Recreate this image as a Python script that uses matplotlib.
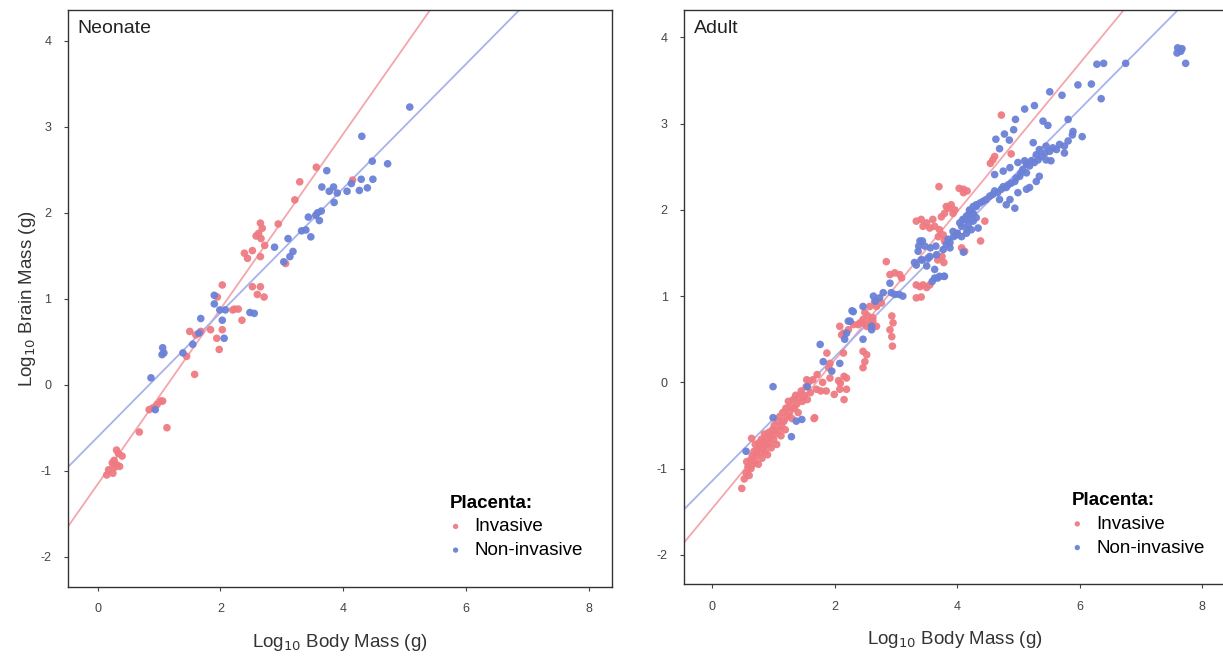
import matplotlib.pyplot as plt
import numpy as np

plt.rcParams["font.family"] = ["Liberation Sans", "DejaVu Sans"]
plt.rcParams["axes.unicode_minus"] = False

# ---- data (log10 body mass, log10 brain mass) ----
neonate_invasive = [
    (3.56, 2.53), (3.29, 2.36), (3.21, 2.15), (4.15, 2.38), (2.65, 1.88), (2.68, 1.82),
    (2.94, 1.87), (2.58, 1.73), (2.62, 1.76), (2.66, 1.70), (2.39, 1.53), (2.52, 1.56),
    (2.65, 1.49), (2.72, 1.62), (2.44, 1.47), (3.06, 1.41), (2.03, 1.16), (2.52, 1.14),
    (2.65, 1.14), (2.71, 1.02), (2.60, 1.05), (1.95, 1.02), (2.29, 0.88), (2.23, 0.88),
    (2.20, 0.87), (2.35, 0.75), (1.45, 0.33), (1.58, 0.12), (1.98, 0.41), (1.94, 0.54),
    (1.50, 0.62), (1.60, 0.58), (1.68, 0.62), (1.84, 0.64), (2.03, 0.64), (0.84, -0.29),
    (0.90, -0.27), (0.97, -0.23), (1.03, -0.19), (1.06, -0.19), (1.13, -0.50), (0.68, -0.55),
    (0.31, -0.76), (0.34, -0.80), (0.40, -0.83), (0.27, -0.88), (0.24, -0.91), (0.31, -0.93),
    (0.18, -0.99), (0.15, -1.05), (0.25, -1.03), (0.36, -0.95), (0.28, -0.96),
]
neonate_noninvasive = [
    (5.08, 3.23), (4.30, 2.89), (4.47, 2.60), (4.72, 2.57), (3.73, 2.49), (4.29, 2.39),
    (4.48, 2.39), (4.13, 2.34), (4.39, 2.29), (4.26, 2.26), (4.06, 2.25), (3.65, 2.30),
    (3.84, 2.30), (3.77, 2.25), (3.90, 2.23), (3.85, 2.12), (3.58, 2.00), (3.64, 2.02),
    (3.55, 1.97), (3.61, 1.91), (3.43, 1.95), (3.39, 1.80), (3.32, 1.79), (3.47, 1.72),
    (3.10, 1.70), (2.88, 1.60), (3.18, 1.55), (3.13, 1.49), (3.03, 1.43), (1.90, 1.04),
    (1.90, 0.94), (2.08, 0.87), (1.99, 0.87), (2.48, 0.84), (2.55, 0.83), (1.68, 0.77),
    (2.03, 0.75), (0.87, 0.08), (1.06, 0.43), (1.08, 0.37), (1.05, 0.35), (1.39, 0.37),
    (1.55, 0.47), (1.65, 0.60), (2.06, 0.54), (0.94, -0.29),
]

adult_invasive = [
    # dense small-mammal band
    (0.48, -1.23), (0.52, -1.12), (0.55, -1.05), (0.58, -0.98), (0.56, -0.92), (0.60, -1.08),
    (0.62, -0.90), (0.63, -1.00), (0.65, -0.85), (0.66, -0.95), (0.68, -0.80), (0.70, -0.92),
    (0.70, -0.72), (0.72, -0.85), (0.73, -0.78), (0.75, -0.95), (0.76, -0.70), (0.78, -0.82),
    (0.79, -0.74), (0.80, -0.66), (0.81, -0.88), (0.83, -0.76), (0.84, -0.68), (0.85, -0.60),
    (0.86, -0.80), (0.88, -0.72), (0.89, -0.64), (0.90, -0.84), (0.92, -0.58), (0.93, -0.70),
    (0.95, -0.62), (0.96, -0.76), (0.98, -0.55), (1.00, -0.66), (1.01, -0.50), (1.03, -0.60),
    (1.05, -0.72), (1.06, -0.45), (1.08, -0.56), (1.10, -0.40), (1.12, -0.62), (1.13, -0.50),
    (1.15, -0.35), (1.17, -0.45), (1.19, -0.55), (1.20, -0.30), (1.22, -0.40), (1.24, -0.22),
    (1.26, -0.35), (1.28, -0.28), (1.30, -0.42), (1.32, -0.20), (1.34, -0.30), (1.36, -0.15),
    (1.38, -0.25), (1.40, -0.35), (1.42, -0.18), (1.45, -0.10), (1.47, -0.22), (1.50, -0.15),
    (1.53, -0.05), (1.55, -0.20), (1.58, 0.01), (1.60, -0.12), (1.64, 0.03), (1.66, -0.42),
    (1.70, -0.08), (1.71, 0.09), (1.77, -0.10), (1.80, 0.00), (0.64, -0.65), (1.54, 0.03),
    (1.86, -0.10), (1.67, -0.41),
    # mid-size
    (1.87, 0.34), (1.90, 0.17), (1.92, 0.22), (1.92, 0.05), (1.99, -0.14), (2.06, 0.02),
    (2.09, -0.01), (2.15, 0.07), (2.15, -0.20), (2.19, 0.05), (2.08, -0.08), (2.19, -0.08),
    (2.14, 0.34), (2.46, 0.36), (2.52, 0.32), (2.49, 0.24), (2.46, 0.17), (2.94, 0.42),
    (2.08, 0.65), (2.11, 0.55), (2.14, 0.57), (2.22, 0.61), (2.30, 0.67), (2.38, 0.67),
    (2.46, 0.69), (2.62, 0.71), (2.68, 0.65), (2.65, 0.94), (2.57, 0.88), (2.68, 0.88),
    (2.76, 0.92), (2.49, 0.81), (2.54, 0.77), (2.62, 0.75), (2.46, 0.73), (2.41, 0.69),
    (2.57, 0.69), (2.52, 0.65), (2.62, 0.65), (2.93, 0.77), (2.95, 0.69), (2.90, 0.61),
    (2.93, 0.53), (2.84, 1.40), (2.90, 1.25), (2.98, 1.27), (3.06, 1.25), (3.09, 1.21),
    (3.33, 1.13), (3.39, 1.11), (3.44, 1.13), (3.50, 1.10), (3.55, 1.13), (3.33, 0.98),
    (3.41, 0.99),
    # larger species
    (3.33, 1.87), (3.41, 1.89), (3.50, 1.85), (3.60, 1.89), (3.63, 1.81), (3.55, 1.79),
    (3.44, 1.81), (3.71, 1.77), (3.77, 1.71), (3.69, 1.69), (3.79, 1.64), (3.75, 1.46),
    (3.68, 1.42), (3.78, 1.39), (3.90, 2.06), (3.85, 2.02), (3.93, 1.96), (3.79, 1.96),
    (3.74, 1.92), (3.82, 2.04), (3.96, 2.00), (3.70, 2.27), (4.03, 2.25), (4.10, 2.24),
    (4.16, 2.22), (4.10, 2.20), (4.45, 1.87), (4.38, 1.64), (4.07, 1.56), (4.12, 1.52),
    (4.58, 2.58), (4.54, 2.54), (4.61, 2.62), (4.88, 2.65), (4.72, 3.10),
]
adult_noninvasive = [
    # small species
    (0.55, -0.80), (0.99, -0.05), (0.99, -0.41), (1.37, -0.45), (1.46, -0.43), (1.29, -0.63),
    (1.55, -0.05), (1.76, 0.44), (1.81, 0.24), (1.95, 0.13), (2.08, 0.22), (2.16, 0.50),
    (2.22, 0.71), (2.46, 0.50), (2.60, 0.61), (2.19, 0.57), (2.25, 0.71), (2.30, 0.82),
    (2.28, 0.83), (2.46, 0.88), (2.60, 0.65), (2.63, 1.00), (2.66, 0.94), (2.73, 0.98),
    (2.79, 1.04), (2.92, 1.04), (3.05, 1.02), (2.98, 1.02), (3.11, 1.00), (2.90, 1.15),
    # mid-size
    (3.30, 1.39), (3.43, 1.42), (3.52, 1.44), (3.33, 1.36), (3.41, 1.42), (3.50, 1.35),
    (3.55, 1.46), (3.66, 1.48), (3.63, 1.31), (3.71, 1.23), (3.79, 1.23), (3.63, 1.21),
    (3.78, 1.23), (3.68, 1.21), (3.59, 1.17), (3.43, 1.64), (3.37, 1.58), (3.56, 1.56),
    (3.65, 1.58), (3.36, 1.52), (3.47, 1.58), (3.39, 1.64), (3.77, 1.54), (3.88, 1.56),
    (3.82, 1.60), (3.85, 1.66), (3.88, 1.62), (3.94, 1.69), (3.93, 1.75), (3.99, 1.71),
    (4.00, 1.73), (4.07, 1.69), (4.07, 1.81), (4.04, 1.85), (4.09, 1.89), (4.13, 1.89),
    (4.15, 1.73), (4.16, 1.77), (4.10, 1.51), (4.23, 1.77), (4.34, 1.79), (4.18, 1.83),
    (4.15, 1.93), (4.26, 1.87), (4.31, 1.91), (4.23, 1.89), (4.26, 1.95), (4.20, 2.00),
    (4.26, 1.96), (4.31, 2.04), (4.12, 1.89), (4.18, 1.93), (4.20, 1.98),
    # large species band
    (4.26, 2.04), (4.31, 2.06), (4.37, 2.08), (4.42, 2.10), (4.47, 2.12), (4.53, 2.16),
    (4.58, 2.18), (4.61, 2.22), (4.66, 2.20), (4.72, 2.24), (4.75, 2.27), (4.80, 2.26),
    (4.83, 2.29), (4.88, 2.31), (4.94, 2.33), (4.96, 2.37), (5.02, 2.39), (5.04, 2.43),
    (5.13, 2.43), (5.07, 2.47), (5.13, 2.53), (5.18, 2.51), (5.21, 2.57), (5.26, 2.55),
    (5.32, 2.58), (5.29, 2.64), (5.37, 2.62), (5.34, 2.70), (5.43, 2.66), (5.45, 2.74),
    (5.51, 2.68), (5.56, 2.72), (5.62, 2.70), (5.67, 2.76), (5.75, 2.74), (5.81, 2.80),
    (5.34, 2.39), (5.29, 2.33), (5.18, 2.26), (5.13, 2.24), (4.99, 2.20), (4.86, 2.12),
    (4.94, 2.02), (4.80, 2.06), (4.69, 2.12), (4.61, 2.41), (4.75, 2.45), (4.86, 2.49),
    (4.99, 2.55), (5.10, 2.57), (5.45, 2.58), (5.53, 2.57), (5.75, 2.66),
    # big-brained outliers
    (4.63, 2.82), (4.77, 2.88), (4.85, 2.81), (4.92, 2.93), (4.69, 2.71), (5.24, 2.78),
    (4.95, 3.05), (5.10, 3.17), (5.26, 3.21), (5.40, 3.03), (5.48, 2.98), (5.51, 3.37),
    (5.71, 3.33), (5.81, 3.05), (5.89, 2.91), (6.04, 2.85), (5.88, 2.87), (5.97, 3.45),
    (6.19, 3.46), (6.35, 3.29), (6.28, 3.69), (6.39, 3.70), (6.75, 3.70), (7.60, 3.88),
    (7.67, 3.87), (7.59, 3.82), (7.65, 3.84), (7.73, 3.70),
]

# fitted allometric lines (slope, intercept)
neonate_fit = {"Invasive": (1.02, -1.16), "Non-invasive": (0.724, -0.61)}
adult_fit = {"Invasive": (0.86, -1.46), "Non-invasive": (0.718, -1.14)}

x_ticks = [0, 2, 4, 6, 8]
y_ticks = [-2, -1, 0, 1, 2, 3, 4]

point_colors = {"Invasive": "#EF7A82", "Non-invasive": "#6B81D7"}
line_colors = {"Invasive": "#F4A6AD", "Non-invasive": "#A8B2EC"}


def draw_panel(ax, label, invasive, noninvasive, fits, xlim, ylim):
    ax.set_xlim(*xlim)
    ax.set_ylim(*ylim)
    xs = np.array(xlim)
    for name, pts in (("Invasive", invasive), ("Non-invasive", noninvasive)):
        arr = np.array(pts)
        ax.scatter(arr[:, 0], arr[:, 1], s=30, color=point_colors[name],
                   edgecolors="none", alpha=0.95, label=name, zorder=3)
        slope, icpt = fits[name]
        ax.plot(xs, slope * xs + icpt, color=line_colors[name], lw=1.3, zorder=2)
    ax.set_xticks(x_ticks)
    ax.set_yticks(y_ticks)
    ax.tick_params(labelsize=9, colors="#444444", length=3, width=0.8, pad=9)
    for sp in ax.spines.values():
        sp.set_color("#333333")
        sp.set_linewidth(1.0)
    ax.text(0.018, 0.982, label, transform=ax.transAxes, ha="left", va="top",
            fontsize=14, color="#222222")
    leg = ax.legend(title="Placenta:", loc="lower right", bbox_to_anchor=(0.96, 0.035),
                    frameon=False, fontsize=13.5, markerscale=0.7, handlelength=0.6,
                    handletextpad=0.7, labelspacing=0.35, borderaxespad=0,
                    alignment="left")
    leg.get_title().set_fontweight("bold")
    leg.get_title().set_fontsize(13.5)
    ax.set_xlabel("Log$_{10}$ Body Mass (g)", fontsize=13.5, color="#333333", labelpad=12)


fig = plt.figure(figsize=(12.23, 6.6), dpi=100)
ax1 = fig.add_axes([0.0556, 0.111, 0.4448, 0.874])
ax2 = fig.add_axes([0.5595, 0.115, 0.4425, 0.870])

draw_panel(ax1, "Neonate", neonate_invasive, neonate_noninvasive, neonate_fit,
           (-0.48, 8.37), (-2.35, 4.36))
draw_panel(ax2, "Adult", adult_invasive, adult_noninvasive, adult_fit,
           (-0.46, 8.38), (-2.34, 4.32))
ax2.legend_.set_bbox_to_anchor((0.975, 0.035))
ax1.set_ylabel("Log$_{10}$ Brain Mass (g)", fontsize=13.5, color="#333333", labelpad=2)

fig.savefig("out.png", dpi=100, facecolor="white")
